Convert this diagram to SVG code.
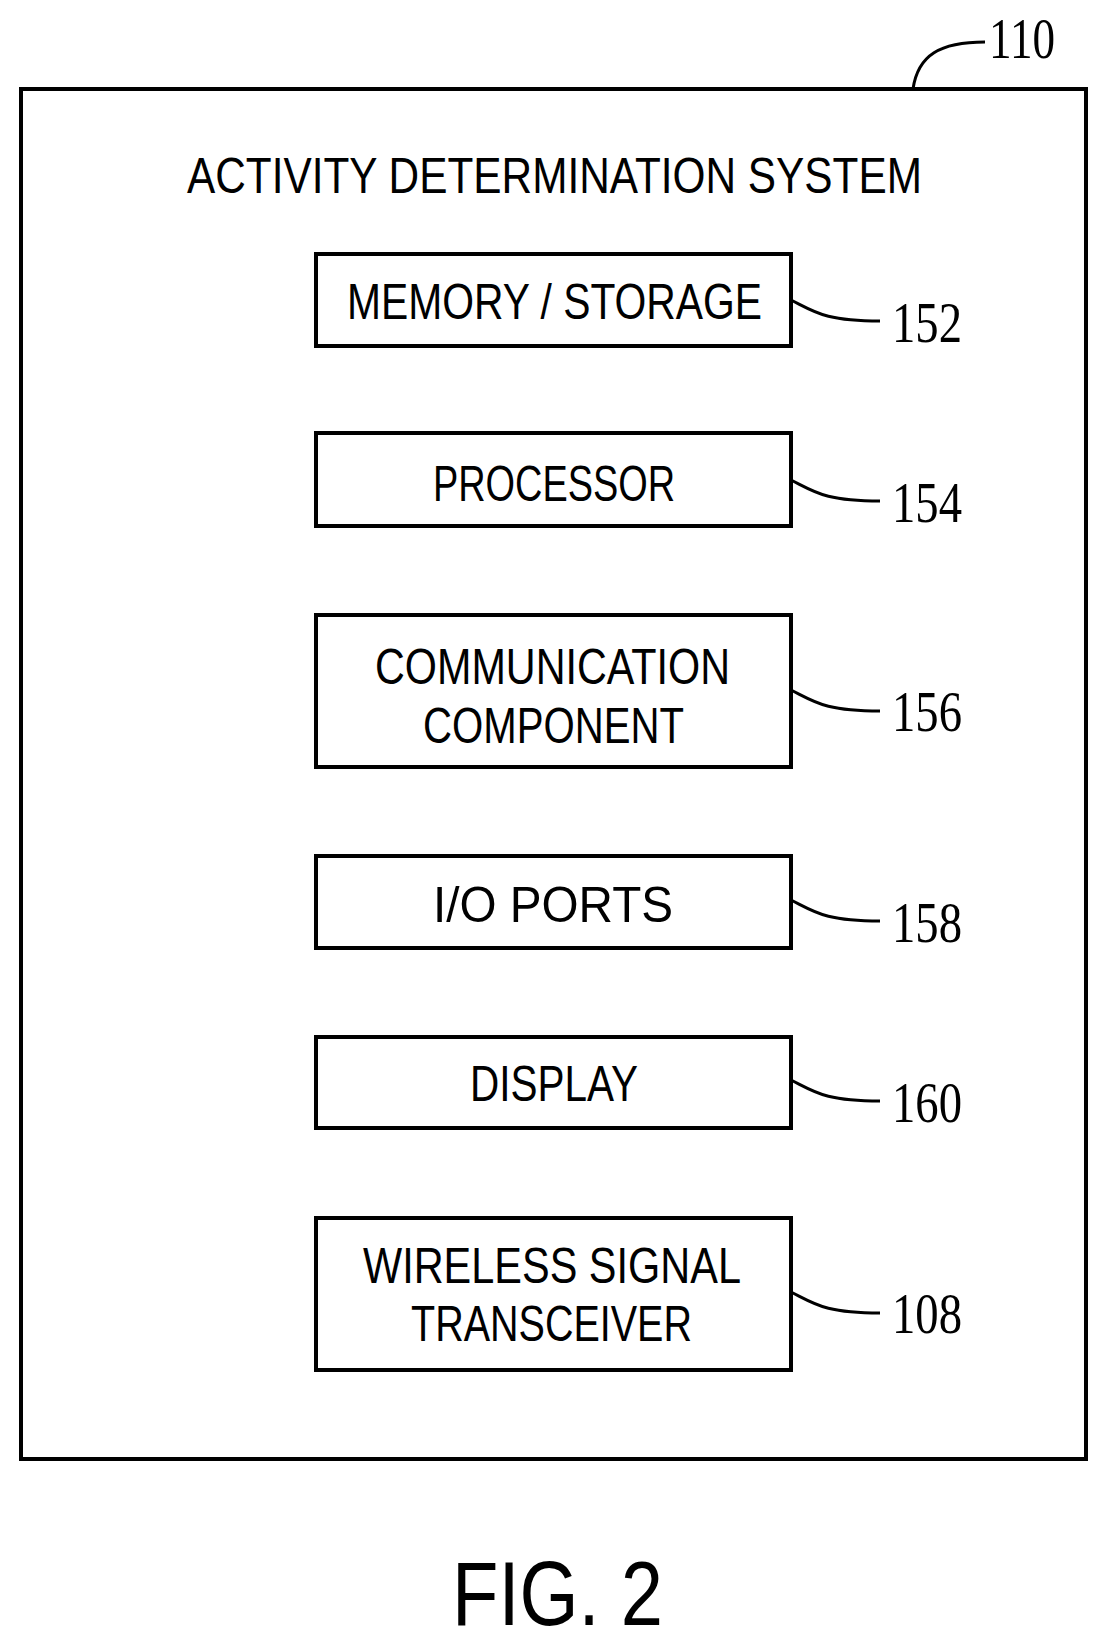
<svg xmlns="http://www.w3.org/2000/svg" width="1105" height="1647" viewBox="0 0 1105 1647">
<style>
.b{fill:none;stroke:#000;stroke-width:4}
.l{fill:none;stroke:#000;stroke-width:3}
.t{font-family:"Liberation Sans",Arial,sans-serif;font-size:50px;fill:#000}
.n{font-family:"Liberation Serif","Times New Roman",serif;font-size:56px;fill:#000}
</style>
<rect width="1105" height="1647" fill="#fff"/>
<g id="system110"><rect class="b" x="21" y="89" width="1065" height="1370"/>
<text class="t" x="187" y="193" textLength="735" lengthAdjust="spacingAndGlyphs">ACTIVITY  DETERMINATION  SYSTEM</text>
<text class="n" x="989" y="58" textLength="66" lengthAdjust="spacingAndGlyphs">110</text></g>
<g id="n152"><rect class="b" x="316" y="254" width="475" height="92"/><text class="t" x="347" y="319" textLength="415" lengthAdjust="spacingAndGlyphs">MEMORY / STORAGE</text><text class="n" x="892" y="342" textLength="70" lengthAdjust="spacingAndGlyphs">152</text></g>
<g id="n154"><rect class="b" x="316" y="433" width="475" height="93"/><text class="t" x="433" y="501" textLength="242" lengthAdjust="spacingAndGlyphs">PROCESSOR</text><text class="n" x="892" y="522" textLength="70" lengthAdjust="spacingAndGlyphs">154</text></g>
<g id="n156"><rect class="b" x="316" y="615" width="475" height="152"/><text class="t" x="375" y="684" textLength="355" lengthAdjust="spacingAndGlyphs">COMMUNICATION</text><text class="t" x="423" y="743" textLength="261" lengthAdjust="spacingAndGlyphs">COMPONENT</text><text class="n" x="892" y="731" textLength="70" lengthAdjust="spacingAndGlyphs">156</text></g>
<g id="n158"><rect class="b" x="316" y="856" width="475" height="92"/><text class="t" x="433" y="922" textLength="240" lengthAdjust="spacingAndGlyphs">I/O  PORTS</text><text class="n" x="892" y="942" textLength="70" lengthAdjust="spacingAndGlyphs">158</text></g>
<g id="n160"><rect class="b" x="316" y="1037" width="475" height="91"/><text class="t" x="470" y="1101" textLength="168" lengthAdjust="spacingAndGlyphs">DISPLAY</text><text class="n" x="892" y="1122" textLength="70" lengthAdjust="spacingAndGlyphs">160</text></g>
<g id="n108"><rect class="b" x="316" y="1218" width="475" height="152"/><text class="t" x="363" y="1283" textLength="378" lengthAdjust="spacingAndGlyphs">WIRELESS  SIGNAL</text><text class="t" x="411" y="1341" textLength="281" lengthAdjust="spacingAndGlyphs">TRANSCEIVER</text><text class="n" x="892" y="1333" textLength="70" lengthAdjust="spacingAndGlyphs">108</text></g>
<g id="connectors">
<path class="l" d="M913 89 C918 55 940 42 985 42"/>
<path class="l" d="M791 300 C815 312 825 321 880 321"/>
<path class="l" d="M791 480 C815 492 825 501 880 501"/>
<path class="l" d="M791 690 C815 702 825 711 880 711"/>
<path class="l" d="M791 900 C815 912 825 921 880 921"/>
<path class="l" d="M791 1080 C815 1092 825 1101 880 1101"/>
<path class="l" d="M791 1292 C815 1304 825 1313 880 1313"/>
</g>
<text class="t" x="452" y="1625" style="font-size:90px" textLength="211" lengthAdjust="spacingAndGlyphs">FIG. 2</text>
</svg>
